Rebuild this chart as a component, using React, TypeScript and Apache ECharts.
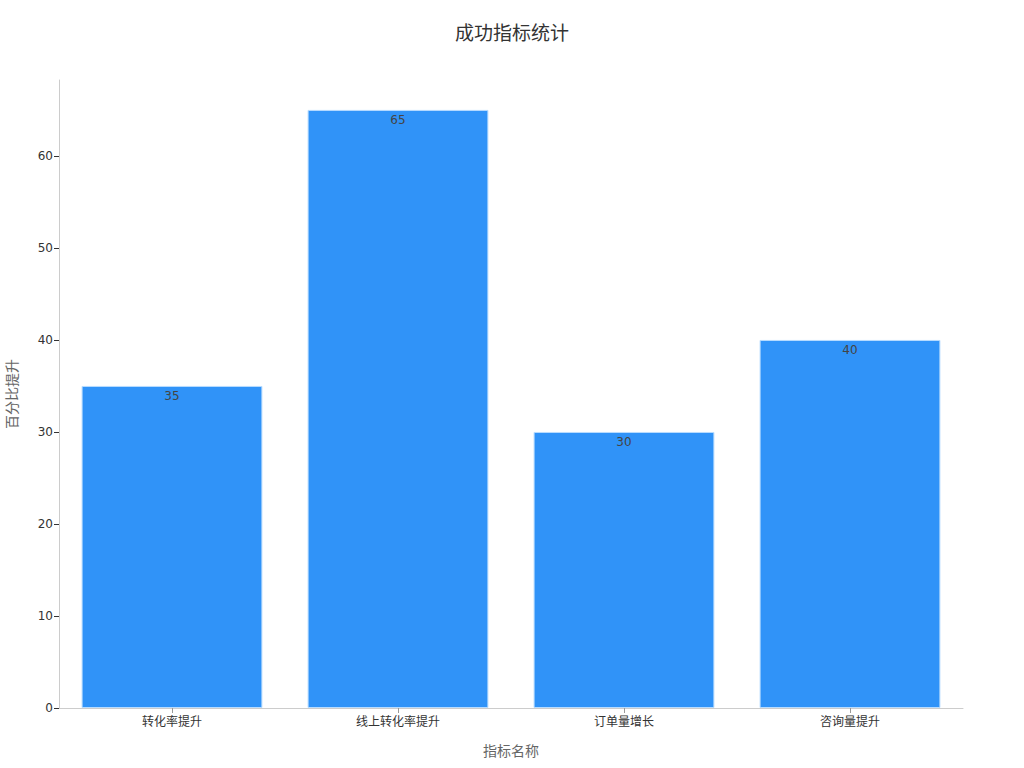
import { useEffect, useRef } from "react";
import * as echarts from "echarts";

const CATEGORIES = ["转化率提升", "线上转化率提升", "订单量增长", "咨询量提升"];
const VALUES = [35, 65, 30, 40];
const Y_MAX = 68.25;

const FONT = "'DejaVu Sans', 'Noto Sans CJK SC', sans-serif";

export default function App() {
  const hostRef = useRef<HTMLDivElement>(null);

  useEffect(() => {
    const host = hostRef.current;
    if (host === null) return;
    const chart = echarts.init(host, undefined, { renderer: "svg" });
    chart.setOption({
      animation: false,
      backgroundColor: "#ffffff",
      textStyle: { fontFamily: FONT },
      title: {
        text: "成功指标统计",
        left: "center",
        top: 18,
        textStyle: { color: "#333333", fontSize: 19, fontWeight: "normal", fontFamily: FONT }
      },
      grid: {
        left: 59,
        right: 61,
        top: 80,
        bottom: 60,
        containLabel: false,
        outerBoundsMode: "none"
      },
      xAxis: {
        type: "category",
        data: CATEGORIES,
        name: "指标名称",
        nameLocation: "middle",
        nameGap: 36,
        nameTextStyle: { color: "#666666", fontSize: 14 },
        axisLine: { lineStyle: { color: "#cccccc" } },
        axisTick: { show: true, alignWithLabel: true, length: 5, lineStyle: { color: "#999999" } },
        axisLabel: { color: "#333333", fontSize: 12, margin: 8 }
      },
      yAxis: {
        type: "value",
        min: 0,
        max: Y_MAX,
        interval: 10,
        name: "百分比提升",
        nameLocation: "middle",
        nameGap: 40,
        nameTextStyle: { color: "#666666", fontSize: 14 },
        axisLine: { show: true, lineStyle: { color: "#cccccc" } },
        axisTick: { show: true, length: 5, lineStyle: { color: "#333333" } },
        axisLabel: { color: "#333333", fontSize: 12, margin: 6, showMaxLabel: false },
        splitLine: { show: false }
      },
      series: [
        {
          type: "bar",
          data: VALUES,
          barWidth: "80%",
          itemStyle: { color: "#3093f8", borderColor: "#b8dcff", borderWidth: 1 },
          label: {
            show: true,
            position: "insideTop",
            distance: 4,
            color: "#444444",
            fontSize: 12
          }
        }
      ]
    });
    return () => chart.dispose();
  }, []);

  return (
    <div
      ref={hostRef}
      style={{ position: "absolute", left: 0, top: 0, width: 1024, height: 768 }}
    />
  );
}
